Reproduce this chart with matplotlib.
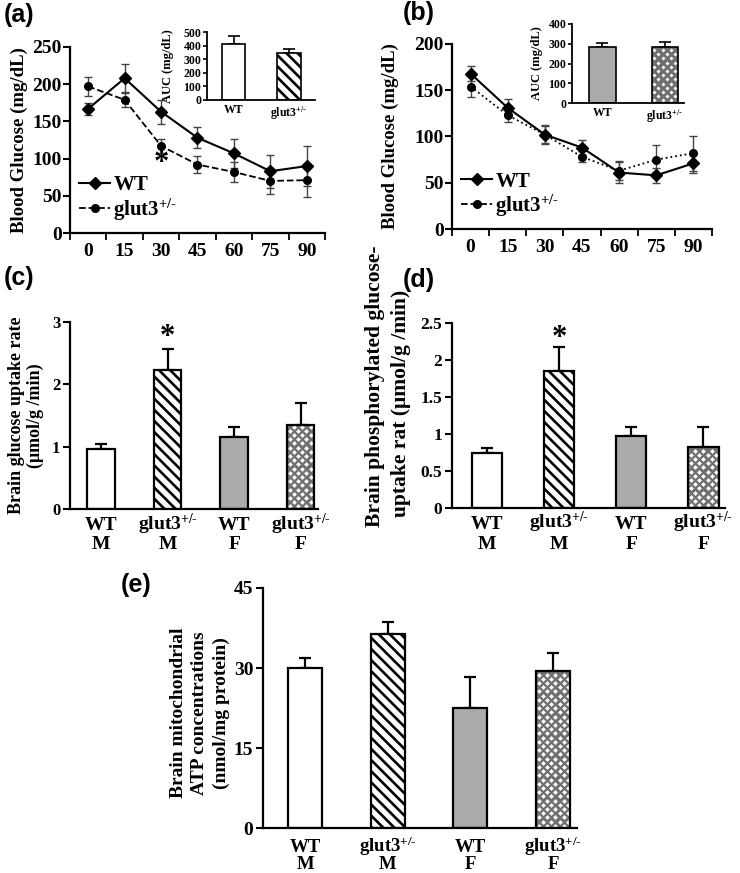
import matplotlib
matplotlib.use('Agg')
import matplotlib.pyplot as plt
from matplotlib.lines import Line2D
import numpy as np

plt.rcParams['font.family'] = ['Liberation Serif', 'DejaVu Serif']
plt.rcParams['font.weight'] = 'bold'
plt.rcParams['axes.labelweight'] = 'bold'
plt.rcParams['mathtext.fontset'] = 'custom'
plt.rcParams['mathtext.rm'] = 'Liberation Serif:bold'
plt.rcParams['mathtext.it'] = 'Liberation Serif:bold'
plt.rcParams['mathtext.bf'] = 'Liberation Serif:bold'
plt.rcParams['hatch.linewidth'] = 1.9
plt.rcParams['axes.linewidth'] = 1.6

GLUT = r'glut3$^{\text{+/-}}$'

# ---------------- data ----------------
time_min = [0, 15, 30, 45, 60, 75, 90]
a_wt = [167, 208, 163, 128, 107, 83, 90]
a_wt_err = [8, 19, 16, 14, 19, 22, 27]
a_glut = [197, 179, 117, 92, 82, 70, 71]
a_glut_err = [13, 9, 10, 11, 13, 18, 22]
a_auc = [414, 346]
a_auc_err = [56, 27]

b_wt = [168, 131, 102, 88, 61, 58, 71]
b_wt_err = [8, 9, 9, 8, 11, 8, 10]
b_glut = [154, 123, 102, 78, 63, 75, 82]
b_glut_err = [11, 7, 10, 6, 10, 16, 19]
b_auc = [285, 285]
b_auc_err = [20, 25]

inset_labels = ['WT', GLUT]
genotypes = ['WT', GLUT, 'WT', GLUT]
sexes = ['M', 'M', 'F', 'F']
c_vals = [0.955, 2.22, 1.157, 1.344]
c_err = [0.085, 0.35, 0.16, 0.36]
d_vals = [0.743, 1.847, 0.969, 0.816]
d_err = [0.067, 0.33, 0.126, 0.28]
e_vals = [30.0, 36.4, 22.6, 29.5]
e_err = [1.9, 2.2, 5.8, 3.4]

W, H = 740, 873
fig = plt.figure(figsize=(W / 100, H / 100), dpi=100)


def px_axes(l, t, r, b):
    return fig.add_axes([l / W, 1 - b / H, (r - l) / W, (b - t) / H])


def clean(ax):
    ax.spines['top'].set_visible(False)
    ax.spines['right'].set_visible(False)


def check_dots(ax, patch, xi, v, width, col_px=8.4, row_px=4.2, dot=6):
    """white diamond pattern inside a grey bar (fill decoration)"""
    pos = ax.get_position()
    x0, x1 = ax.get_xlim()
    y0, y1 = ax.get_ylim()
    sx = (x1 - x0) / (pos.width * W)
    sy = (y1 - y0) / (pos.height * H)
    cstep, rstep = col_px * sx, row_px * sy
    xs_all, ys_all = [], []
    for j, yy in enumerate(np.arange(rstep * 0.6, v, rstep)):
        off = cstep / 2 if j % 2 else 0
        for xx in np.arange(xi - width / 2 + cstep * 0.3 + off - cstep, xi + width / 2 + cstep, cstep):
            xs_all.append(xx)
            ys_all.append(yy)
    sc = ax.scatter(xs_all, ys_all, s=dot, marker='D', color='white', linewidths=0, zorder=2.5)
    sc.set_clip_path(patch)


def styled_bars(ax, vals, errs, styles, width, lw=1.5, capsize=4, dot=6):
    x = np.arange(len(vals))
    for xi, v, e, st in zip(x, vals, errs, styles):
        ax.errorbar(xi, v, yerr=[[0], [e]], color='black', capsize=capsize,
                    elinewidth=lw, capthick=lw, zorder=1, fmt='none')
        if st == 'white':
            ax.bar(xi, v, width, color='white', edgecolor='black', linewidth=lw, zorder=2)
        elif st == 'stripe':
            ax.bar(xi, v, width, color='white', edgecolor='black', hatch='\\\\\\',
                   linewidth=lw, zorder=2)
        elif st == 'gray':
            ax.bar(xi, v, width, color='#aaaaaa', edgecolor='black', linewidth=lw, zorder=2)
        elif st == 'check':
            bc = ax.bar(xi, v, width, color='#707070', edgecolor='none', linewidth=0, zorder=2)
            check_dots(ax, bc[0], xi, v, width, dot=dot)
            ax.bar(xi, v, width, color='none', edgecolor='black', linewidth=lw, zorder=3)
    return x


def line_panel(ax, wt, wte, gl, gle, ls, ymax, ystep):
    x = np.arange(len(time_min))
    ax.errorbar(x, wt, yerr=wte, color='black', marker='D', ms=6, lw=1.5,
                ecolor='#444444', elinewidth=1, capsize=3, zorder=3)
    ax.errorbar(x, gl, yerr=gle, color='black', marker='o', ms=5.5, lw=1.3, ls=ls,
                ecolor='#444444', elinewidth=1, capsize=3, zorder=3)
    ax.set_xlim(-0.5, 6.5)
    ax.set_ylim(0, ymax)
    ax.set_yticks(np.arange(0, ymax + 1, ystep))
    ax.set_xticks(x)
    ax.set_xticklabels([str(t) for t in time_min])
    ax.set_xticks(np.arange(-0.5, 7, 1), minor=True)
    ax.tick_params(axis='x', which='major', length=0, pad=7, labelsize=14)
    ax.tick_params(axis='x', which='minor', length=5, width=1.3, direction='out')
    ax.tick_params(axis='y', length=5, width=1.5, labelsize=14, pad=1)
    ax.set_ylabel('Blood Glucose (mg/dL)', fontsize=13.5)
    clean(ax)
    handles = [Line2D([], [], color='black', marker='D', ms=6, lw=1.5, ls='-'),
               Line2D([], [], color='black', marker='o', ms=5.5, lw=1.3, ls='--')]
    ax.legend(handles, ['WT', GLUT], loc='upper left', bbox_to_anchor=(0.035, 0.31),
              frameon=False, fontsize=15, handlelength=1.5, handletextpad=0.15,
              labelspacing=0.05, borderaxespad=0, borderpad=0)


def inset(ax, vals, errs, styles, ymax, xlim):
    ax.set_xlim(*xlim)
    ax.set_ylim(0, ymax)
    x = styled_bars(ax, vals, errs, styles, 0.42, lw=1.2, capsize=4, dot=4)
    ax.set_xlim(*xlim)
    ax.set_ylim(0, ymax)
    ax.set_yticks(np.arange(0, ymax + 1, 100))
    ax.set_xticks(x)
    ax.set_xticklabels(inset_labels)
    ax.tick_params(axis='x', length=0, labelsize=8.5, pad=3)
    ax.tick_params(axis='y', length=3, width=1.2, labelsize=8.5, pad=1)
    ax.set_ylabel('AUC (mg/dL)', fontsize=9)
    for sp in ax.spines.values():
        sp.set_linewidth(1.3)
    clean(ax)


# ---------------- (a) ----------------
axa = px_axes(70, 47, 325, 233)
line_panel(axa, a_wt, a_wt_err, a_glut, a_glut_err, '--', 250, 50)
axa.yaxis.set_label_coords(-0.165, 0.5)
axa.text(2, 94, '*', ha='center', va='center', fontsize=22)
axai = px_axes(207, 32, 315, 100)
inset(axai, a_auc, a_auc_err, ['white', 'stripe'], 500, (-0.48, 1.47))
axai.yaxis.set_label_coords(-0.305, 0.5)

# ---------------- (b) ----------------
axb = px_axes(452, 44, 712, 229)
line_panel(axb, b_wt, b_wt_err, b_glut, b_glut_err, ':', 200, 50)
axb.yaxis.set_label_coords(-0.204, 0.5)
axbi = px_axes(572, 24, 684, 103)
inset(axbi, b_auc, b_auc_err, ['gray', 'check'], 400, (-0.49, 1.31))
axbi.yaxis.set_label_coords(-0.26, 0.5)

styles4 = ['white', 'stripe', 'gray', 'check']


def bar_panel(ax, vals, errs, width, xlim, ymax, yticks, ylabel, lsize, tsize,
              xsize, pad1, pad2, lspace=1.15):
    ax.set_xlim(*xlim)
    ax.set_ylim(0, ymax)
    x = styled_bars(ax, vals, errs, styles4, width, lw=1.6, capsize=4.5)
    ax.set_xlim(*xlim)
    ax.set_ylim(0, ymax)
    ax.set_yticks(yticks)
    ax.set_xticks(x)
    ax.set_xticklabels(genotypes)
    for lab in ax.get_xticklabels():
        lab.set_verticalalignment('baseline')
    ax.tick_params(axis='x', length=0, labelsize=xsize, pad=pad1)
    ax.tick_params(axis='y', length=5, width=1.5, labelsize=tsize, pad=2)
    for xi, s in zip(x, sexes):
        ax.annotate(s, xy=(xi, 0), xycoords=('data', 'axes fraction'),
                    xytext=(0, -pad2), textcoords='offset points',
                    ha='center', va='baseline', fontsize=xsize, annotation_clip=False)
    if ylabel is not None:
        ax.set_ylabel(ylabel, fontsize=lsize, linespacing=lspace)
    clean(ax)


# ---------------- (c) ----------------
axc = px_axes(70, 321.7, 318, 509)
bar_panel(axc, c_vals, c_err, 0.41, (-0.466, 3.26), 3, [0, 1, 2, 3],
          'Brain glucose uptake rate\n(\u03bcmol/g /min)', 13, 12, 14, 15, 29)
axc.yaxis.set_label_coords(-0.105, 0.5)
axc.text(1, 2.74, '*', ha='center', va='center', fontsize=22)

# ---------------- (d) ----------------
axd = px_axes(452, 322.7, 725, 507.7)
bar_panel(axd, d_vals, d_err, 0.42, (-0.486, 3.3), 2.5, [0, 0.5, 1, 1.5, 2, 2.5],
          None, 15.5, 12.5, 14, 15, 29.5)
axd.set_yticklabels(['0', '0.5', '1', '1.5', '2', '2.5'])
axd.text(-0.282, 0.655, 'Brain phosphorylated glucose-', transform=axd.transAxes,
         rotation=90, ha='center', va='center', fontsize=15.5, weight='bold')
axd.text(-0.187, 0.565, 'uptake rat (\u03bcmol/g /min)', transform=axd.transAxes,
         rotation=90, ha='center', va='center', fontsize=15.5, weight='bold')
axd.text(1, 2.29, '*', ha='center', va='center', fontsize=22)

# ---------------- (e) ----------------
axe = px_axes(263, 588, 577, 828.3)
bar_panel(axe, e_vals, e_err, 0.41, (-0.51, 3.29), 45, [0, 15, 30, 45],
          'Brain mitochondrial\nATP concentrations\n(nmol/mg protein)', 14, 14, 13.5, 17, 29.5,
          lspace=1.35)
axe.yaxis.set_label_coords(-0.105, 0.48)

# ---------------- panel letters ----------------
for lab, xp, yp in [('(a)', 4, 3), ('(b)', 403, 1), ('(c)', 4, 266), ('(d)', 403, 268), ('(e)', 121, 573)]:
    fig.text(xp / W, 1 - yp / H, lab, ha='left', va='top', fontsize=18,
             family='Liberation Sans', weight='bold')

fig.savefig('out.png', dpi=100)
